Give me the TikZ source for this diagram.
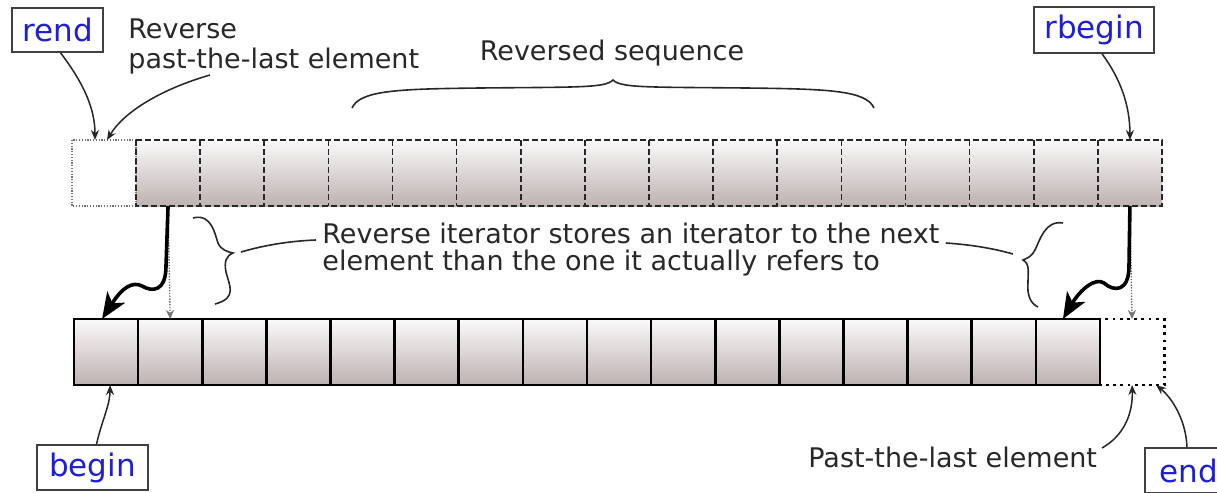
\documentclass[tikz,border=0pt]{standalone}
\usepackage{fontspec}
\setmainfont{DejaVu Sans}
\usetikzlibrary{arrows.meta}
\definecolor{txtc}{RGB}{40,40,40}
\definecolor{lblc}{RGB}{30,30,215}
\definecolor{cellbot}{RGB}{190,177,177}
\definecolor{celltop}{RGB}{250,250,250}
\begin{document}
\begin{tikzpicture}[x=0.5pt,y=-0.5pt,
  txt/.style={font=\fontsize{13.5}{13.5}\selectfont, text=txtc, inner sep=0pt},
  lbl/.style={draw=black!75, line width=0.75pt, fill=white, font=\fontsize{15.5}{15.5}\selectfont, text=lblc, inner sep=0pt},
  cellbase/.style={minimum width=32.0625pt, minimum height=33pt, inner sep=0pt, outer sep=0pt},
  shadedcell/.style={cellbase, top color=celltop, bottom color=cellbot},
  emptycell/.style={cellbase, fill=white},
  topdash/.style={draw=black!85, line width=0.8pt, dash pattern=on 3pt off 1.5pt},
  topdot/.style={draw=black!55, line width=0.6pt, dash pattern=on 0.6pt off 0.8pt},
  botline/.style={draw=black, line width=1.4pt},
  botdot/.style={draw=black, line width=1.4pt, dash pattern=on 1.4pt off 2.2pt},
  thinarr/.style={draw=black!85, line width=0.75pt, -{Stealth[length=5pt,width=4pt]}},
  thickarr/.style={draw=black, line width=1.8pt, -{Stealth[length=13pt,width=10.5pt,inset=3.5pt]}},
  dotarr/.style={draw=black!55, line width=0.7pt, dash pattern=on 0.7pt off 0.7pt, -{Stealth[length=4.5pt,width=4pt,open]}},
  bracel/.style={draw=txtc, line width=0.8pt}
]
\clip (0,0) rectangle (1217,493);
\fill[white] (0,0) rectangle (1217,493);

% top row (reversed sequence)
\node[emptycell] (t0) at (104,173) {};
\foreach \i in {1,...,16} {
  \node[shadedcell] (t\i) at ({136+64.125*(\i-0.5)},173) {};
}
\draw[topdot] (t0.north west) rectangle (t0.south east);
\draw[topdash] (t1.north west) rectangle (t16.south east);
\foreach \i in {2,...,16} {
  \draw[topdash] (t\i.north west) -- (t\i.south west);
}
% bottom row
\node[emptycell] (b16) at (1132.06,352) {};
\foreach \i in {0,...,15} {
  \node[shadedcell] (b\i) at ({74+64.125*(\i+0.5)},352) {};
}
\draw[botdot] (b16.north west) rectangle (b16.south east);
\draw[botline] (b0.north west) rectangle (b15.south east);
\foreach \i in {1,...,15} {
  \draw[botline, line width=1.3pt] (b\i.north west) -- (b\i.south west);
}

% labels
\node[lbl, minimum width=45.5pt, minimum height=22pt] (rend) at (57.5,30) {rend};
\node[lbl, minimum width=60pt, minimum height=23pt] (rbegin) at (1094,30) {rbegin};
\node[lbl, minimum width=55.5pt, minimum height=22.5pt] (begin) at (92.5,467.5) {begin};
\node[lbl, minimum width=44pt, minimum height=22.5pt] (end) at (1189,470.5) {end};

% texts
\node[txt, anchor=base west] (rv1) at (128,38) {Reverse};
\node[txt, anchor=base west] (rv2) at (128,68) {past-the-last element};
\node[txt, anchor=base] (rs) at (612,60) {Reversed sequence};
\node[txt, anchor=base west] (m1) at (322,243) {Reverse iterator stores an iterator to the next};
\node[txt, anchor=base west] (m2) at (322,270) {element than the one it actually refers to};
\node[txt, anchor=base west] (pl) at (808,467) {Past-the-last element};

% top brace
\draw[bracel] (352,108) .. controls (360,90) and (400,89) .. (480,88)
  .. controls (580,87) and (605,88) .. (613,80)
  .. controls (621,88) and (646,87) .. (746,88)
  .. controls (826,89) and (866,90) .. (874,108);

% left brace
\draw[bracel] (193,218) .. controls (212,213) and (215,235) .. (218,243)
  .. controls (221,250) and (228,252) .. (233,253)
  .. controls (226,256) and (224,262) .. (226,272)
  .. controls (229,285) and (238,298) .. (215,304);
% right brace
\draw[bracel] (1063,223) .. controls (1045,220) and (1040,240) .. (1035,250)
  .. controls (1032,256) and (1028,258) .. (1023,260)
  .. controls (1030,264) and (1028,272) .. (1028,282)
  .. controls (1027,295) and (1030,303) .. (1038,307);

% connectors from text to braces
\draw[bracel] ([xshift=-3pt,yshift=1.5pt]m1.base west) .. controls (290,241) and (265,245) .. (241,252);
\draw[bracel] ([xshift=3pt]m1.base east) .. controls (975,245) and (995,249) .. (1013,254);

% arrows on top
\draw[thinarr] ([xshift=1.5pt]rend.south) .. controls (85,85) and (95,110) .. ([xshift=-4.5pt]t0.north);
\coordinate (plc) at (210,75);
\draw[thinarr] (plc) .. controls (165,88) and (125,110) .. ([xshift=1.5pt]t0.north);
\draw[thinarr] ([xshift=4pt]rbegin.south) .. controls (1120,78) and (1130,105) .. (t16.north);

% dotted straight arrows
\draw[dotarr] (t1.south) -- (b1.north);
\draw[dotarr] (t16.south) -- (b16.north);

% thick arrows
\draw[thickarr] (t1.south) -- (166,266) .. controls (166,292) and (152,292) .. (142,286)
  .. controls (132,281) and (122,288) .. ([xshift=-2pt]b0.north);
\draw[thickarr] (t16.south) -- (1129,266) .. controls (1129,292) and (1114,292) .. (1104,283)
  .. controls (1095,277) and (1080,290) .. ([xshift=-2.5pt]b15.north);

% arrows at bottom
\draw[thinarr] ([xshift=2pt]begin.north) .. controls (102,420) and (110,405) .. ([xshift=2pt]b0.south);
\coordinate (ptc) at (1102,448);
\draw[thinarr] (ptc) .. controls (1125,435) and (1133,412) .. (b16.south);
\draw[thinarr] ([xshift=-1pt]end.north) .. controls (1186,420) and (1172,398) .. ([xshift=-4pt]b16.south east);
\end{tikzpicture}
\end{document}
